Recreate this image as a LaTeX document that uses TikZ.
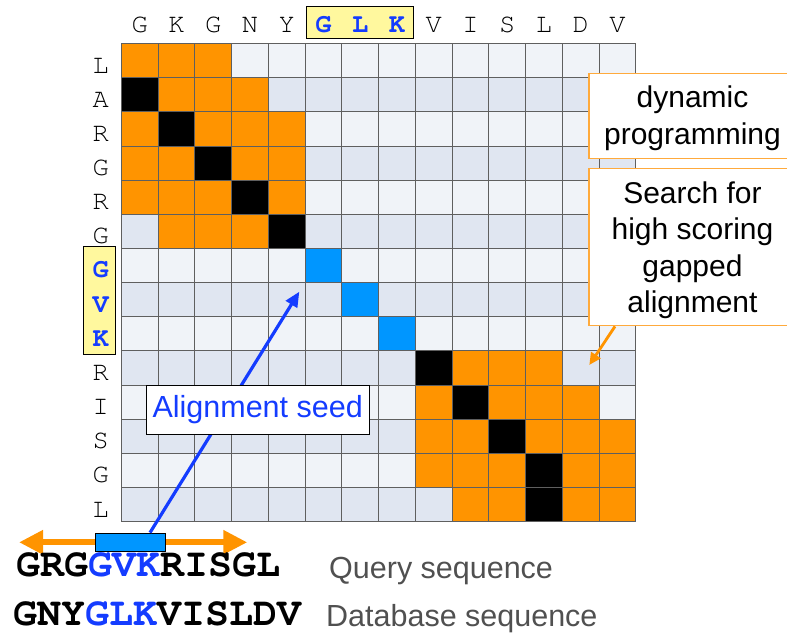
\documentclass[tikz,border=0pt]{standalone}
\usepackage[T1]{fontenc}
\usepackage{fontspec}
\setmainfont{Liberation Sans}
\newcommand\seqfont{\fontencoding{T1}\fontfamily{pcr}\selectfont}
\usetikzlibrary{arrows.meta}

\definecolor{cOrange}{RGB}{255,148,0}
\definecolor{cBlue}{RGB}{0,150,255}
\definecolor{cLight}{RGB}{240,243,248}
\definecolor{cDark}{RGB}{224,230,241}
\definecolor{cGrid}{RGB}{95,95,95}
\definecolor{cYellow}{RGB}{255,248,158}
\definecolor{cText}{RGB}{20,60,255}
\definecolor{cBoxLine}{RGB}{255,170,60}
\definecolor{cGray}{RGB}{80,80,80}

\tikzset{
  hdr/.style={font=\seqfont\fontsize{27}{30}\selectfont, anchor=base, inner sep=0pt},
  hdrhl/.style={hdr, font=\seqfont\bfseries\fontsize{27}{30}\selectfont, text=cText},
  hlbox/.style={draw=black, line width=1.5pt, fill=cYellow, inner sep=0pt},
  calloutbox/.style={draw=cBoxLine, line width=1.3pt, fill=white, inner sep=0pt},
  boxtext/.style={font=\fontsize{30}{36.5}\selectfont, align=center, inner sep=0pt},
  seedbox/.style={draw=black, line width=1.1pt, fill=white, inner sep=0pt, font=\fontsize{30.5}{36}\selectfont, text=cText},
  seqtext/.style={font=\seqfont\bfseries\fontsize{40}{44}\selectfont, anchor=base west, inner sep=0pt},
  labeltext/.style={font=\fontsize{30.5}{36}\selectfont, text=cGray, anchor=base west, inner sep=0pt},
  gridline/.style={draw=cGrid, line width=0.9pt},
}

\begin{document}
\begin{tikzpicture}[x=1pt,y=-1pt]
\useasboundingbox (0,0) rectangle (787,634);
\def\gx{121.3}\def\gy{43.5}\def\cw{36.75}\def\ch{34.15}
% row backgrounds
\foreach \r in {0,2,...,12} \fill[cLight] (\gx,{\gy+\r*\ch}) rectangle ++({14*\cw},\ch);
\foreach \r in {1,3,...,13} \fill[cDark] (\gx,{\gy+\r*\ch}) rectangle ++({14*\cw},\ch);
% orange cells
\foreach \c/\r in {0/0,1/0,2/0, 1/1,2/1,3/1, 0/2,2/2,3/2,4/2, 0/3,1/3,3/3,4/3, 0/4,1/4,2/4,4/4, 1/5,2/5,3/5,
  9/9,10/9,11/9, 8/10,10/10,11/10,12/10, 8/11,9/11,11/11,12/11,13/11, 8/12,9/12,10/12,12/12,13/12, 9/13,10/13,12/13,13/13}
  \fill[cOrange] ({\gx+\c*\cw},{\gy+\r*\ch}) rectangle ++(\cw,\ch);
% black cells
\foreach \c/\r in {0/1,1/2,2/3,3/4,4/5,8/9,9/10,10/11,11/12,11/13}
  \fill[black] ({\gx+\c*\cw},{\gy+\r*\ch}) rectangle ++(\cw,\ch);
% blue seed cells
\foreach \c/\r in {5/6,6/7,7/8}
  \fill[cBlue] ({\gx+\c*\cw},{\gy+\r*\ch}) rectangle ++(\cw,\ch);
% grid lines
\foreach \i in {0,...,14} {
  \draw[gridline] ({\gx+\i*\cw},\gy) -- ++(0,{14*\ch});
  \draw[gridline] (\gx,{\gy+\i*\ch}) -- ++({14*\cw},0);
}
% highlight boxes
\node[hlbox, minimum width=106.6pt, minimum height=31.6pt] (glkbox) at (360,22.5) {};
\node[hlbox, minimum width=32.4pt, minimum height=107.6pt] (gvkbox) at (99.5,300.5) {};
% column header
\foreach \l/\i in {G/0,K/1,G/2,N/3,Y/4,V/8,I/9,S/10,L/11,D/12,V/13}
  \node[hdr] (col\i) at ({\gx+(\i+0.5)*\cw},32.3) {\l};
\foreach \l/\i in {G/5,L/6,K/7}
  \node[hdrhl] (col\i) at ({\gx+(\i+0.5)*\cw},32.3) {\l};
% row labels
\foreach \l/\i in {L/0,A/1,R/2,G/3,R/4,G/5,R/9,I/10,S/11,G/12,L/13}
  \node[hdr] (row\i) at (100.8,{\gy+(\i+0.5)*\ch+12.5}) {\l};
\foreach \l/\i in {G/6,V/7,K/8}
  \node[hdrhl] (row\i) at (100.8,{\gy+(\i+0.5)*\ch+12.5}) {\l};
% query extension arrow and seed bar
\coordinate (qL) at (19,542.3);
\coordinate (qR) at (247.3,542.3);
\draw[cOrange, line width=6pt, {Triangle[length=24pt,width=23pt]}-{Triangle[length=24pt,width=23pt]}] (qL) -- (qR);
\node[draw=black, line width=1.3pt, fill=cBlue, minimum width=70pt, minimum height=18.4pt, inner sep=0pt] (seedbar) at (130.7,542.5) {};
% seed arrow
\coordinate (seedtip) at (299.3,291.7);
\draw[cText, line width=3.2pt, -{Triangle[length=15pt,width=13pt]}] ([xshift=19.3pt]seedbar.north) -- (seedtip);
\node[seedbox, minimum width=223.3pt, minimum height=48.6pt] (seed) at (257.7,410) {Alignment seed};
% callouts
\node[calloutbox, minimum width=206pt, minimum height=85pt] (dpbox) at (692,115.8) {};
\node[boxtext] (dptext) at (692.5,118.1) {dynamic\\programming};
\node[calloutbox, minimum width=206pt, minimum height=157.4pt] (gapbox) at (692,247) {};
\node[boxtext] (gaptext) at (692.5,250.2) {Search for\\high scoring\\gapped\\alignment};
\coordinate (gaptip) at (589.3,365);
\draw[cOrange, line width=2.8pt, -{Triangle[length=12pt,width=11pt]}] ([xshift=-77pt]gapbox.south) -- (gaptip);
% sequences
\node[seqtext] (query) at (16,576.7) {GRG\textcolor{cText}{GVK}RISGL};
\node[seqtext] (db) at (13,625) {GNY\textcolor{cText}{GLK}VISLDV};
\node[labeltext] (qlabel) at (329,578.3) {Query sequence};
\node[labeltext] (dblabel) at (326,626.7) {Database sequence};
\end{tikzpicture}
\end{document}
